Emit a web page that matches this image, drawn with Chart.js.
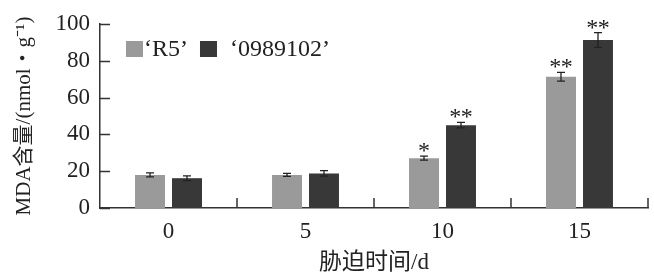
<!DOCTYPE html>
<html>
<head>
<meta charset="utf-8">
<script src="https://cdn.jsdelivr.net/npm/chart.js@4"></script>
<style>
html,body{margin:0;padding:0;background:#fff;}
#wrap{width:654px;height:279px;position:relative;}
</style>
</head>
<body>
<div id="wrap"><canvas id="c"></canvas></div>
<script>
const categories = ['0', '5', '10', '15'];
const seriesNames = ['\u2018R5\u2019', '\u20180989102\u2019'];
const r5Values = [18, 18, 27.1, 71.3];
const r5Errors = [1.1, 0.8, 1.1, 2.4];
const r5Signif = ['', '', '*', '**'];
const d09Values = [16.2, 18.8, 45.0, 91.3];
const d09Errors = [1.3, 1.5, 1.5, 4.0];
const d09Signif = ['', '', '**', '**'];
const yTicks = [0, 20, 40, 60, 80, 100];

const SERIF = '"Liberation Serif", "Noto Sans CJK SC", serif';
const GRAY = '#9a9a9a';
const DARK = '#383838';
const AXIS = '#333333';

const extras = {
  id: 'extras',
  afterDatasetsDraw(chart) {
    const ctx = chart.ctx;
    const y = chart.scales.y, x = chart.scales.x;
    const ca = chart.chartArea;
    const errs = [r5Errors, d09Errors];
    const sigs = [r5Signif, d09Signif];
    ctx.save();
    // error bars + significance
    chart.data.datasets.forEach((ds, di) => {
      const meta = chart.getDatasetMeta(di);
      meta.data.forEach((bar, i) => {
        const v = ds.data[i], e = errs[di][i];
        const yTop = y.getPixelForValue(v + e);
        const yBot = y.getPixelForValue(v - e);
        ctx.strokeStyle = '#222';
        ctx.lineWidth = 1.3;
        ctx.beginPath();
        ctx.moveTo(bar.x, yTop); ctx.lineTo(bar.x, yBot);
        ctx.moveTo(bar.x - 4, yTop); ctx.lineTo(bar.x + 4, yTop);
        ctx.moveTo(bar.x - 4, yBot); ctx.lineTo(bar.x + 4, yBot);
        ctx.stroke();
        const s = sigs[di][i];
        if (s) {
          ctx.fillStyle = '#1a1a1a';
          ctx.font = '24px ' + SERIF;
          ctx.textAlign = 'center';
          ctx.textBaseline = 'alphabetic';
          const n = s.length;
          for (let k = 0; k < n; k++) {
            const off = (k - (n - 1) / 2) * 11.5;
            ctx.fillText('*', bar.x + off, yTop + 2);
          }
        }
      });
    });
    // inward ticks
    ctx.strokeStyle = AXIS;
    ctx.lineWidth = 1.5;
    ctx.beginPath();
    yTicks.forEach(t => {
      const py = Math.round(y.getPixelForValue(t)) + 0.5;
      ctx.moveTo(ca.left, py); ctx.lineTo(ca.left + 10, py);
    });
    for (let i = 0; i < categories.length; i++) {
      const px = Math.round(x.getPixelForValue(i + 0.5));
      ctx.moveTo(px, ca.bottom); ctx.lineTo(px, ca.bottom - 10);
    }
    ctx.stroke();
    // legend
    let lx = ca.left + 26;
    const ly = ca.top + 25;
    ctx.font = '24px ' + SERIF;
    ctx.textBaseline = 'middle';
    ctx.textAlign = 'left';
    chart.data.datasets.forEach((ds, di) => {
      ctx.fillStyle = ds.backgroundColor;
      ctx.fillRect(lx, ly - 8, 17, 16);
      ctx.fillStyle = '#222';
      const tx = lx + 18 + (di === 0 ? 0 : 12);
      ctx.fillText(ds.label, tx, ly + 1);
      lx = tx + ctx.measureText(ds.label).width + 12;
    });
    ctx.restore();
  }
};

new Chart(document.getElementById('c'), {
  type: 'bar',
  data: {
    labels: categories,
    datasets: [
      { label: seriesNames[0], data: r5Values, backgroundColor: GRAY },
      { label: seriesNames[1], data: d09Values, backgroundColor: DARK }
    ]
  },
  options: {
    responsive: true,
    maintainAspectRatio: false,
    animation: false,
    layout: { padding: { left: 0, right: 6, top: 24, bottom: 0 } },
    datasets: { bar: { categoryPercentage: 0.54, barPercentage: 0.81 } },
    plugins: { legend: { display: false }, tooltip: { enabled: false } },
    scales: {
      x: {
        grid: { display: false, drawTicks: false },
        border: { display: true, color: AXIS, width: 1.5 },
        ticks: { color: '#222', padding: 10, font: { family: SERIF, size: 23 } },
        title: { display: true, text: '胁迫时间/d', color: '#222', font: { family: SERIF, size: 23 }, padding: { top: 2, bottom: 2 } },
        afterFit(s) { s.height = 71; }
      },
      y: {
        min: 0, max: 100,
        grid: { display: false, drawTicks: false },
        border: { display: true, color: AXIS, width: 1.5 },
        ticks: { stepSize: 20, color: '#222', padding: 10, font: { family: SERIF, size: 23 } },
        title: { display: true, text: 'MDA含量/(nmol・g⁻¹)', color: '#222', font: { family: SERIF, size: 21 }, padding: { top: 12, bottom: 0 } },
        afterFit(s) { s.width = 100; }
      }
    }
  },
  plugins: [extras]
});
</script>
</body>
</html>
